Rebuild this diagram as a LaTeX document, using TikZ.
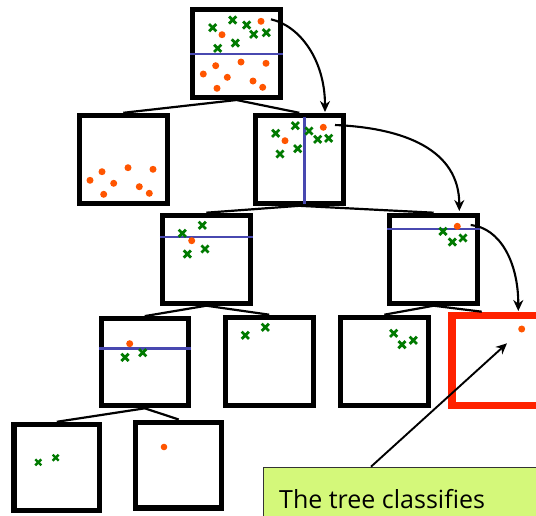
\documentclass[tikz,border=0pt]{standalone}
\usepackage{fontspec}
\setmainfont{Open Sans}
\usetikzlibrary{arrows.meta,calc}
\definecolor{boxred}{RGB}{255,34,0}
\definecolor{dotorange}{RGB}{255,85,0}
\definecolor{crossgreen}{RGB}{0,122,0}
\definecolor{splitblue}{RGB}{72,72,176}
\definecolor{notefill}{RGB}{212,248,122}
\begin{document}
\begin{tikzpicture}[x=1pt,y=-1pt,
  cell/.style={draw=black,line width=5.2pt,fill=white,inner sep=0pt,
    minimum width=#1,minimum height=#1},
  cell/.default=87.8pt,
  edge/.style={line width=2.2pt},
  split/.style={draw=splitblue,line width=2.4pt},
  flow/.style={line width=2.1pt,-{Stealth[length=11pt,width=10pt]}},
  xm/.pic={\draw[crossgreen,line width=2.8pt]
     (-3.6pt,-3.6pt)--(3.6pt,3.6pt) (-3.6pt,3.6pt)--(3.6pt,-3.6pt);},
  xs/.pic={\draw[crossgreen,line width=2.4pt]
     (-3pt,-3pt)--(3pt,3pt) (-3pt,3pt)--(3pt,-3pt);},
]
\useasboundingbox (0,0) rectangle (536,515);
\clip (0,0) rectangle (536,515);

% ---- tree cells ----
\node[cell] (T)   at (236.5,53.5) {};
\node[cell] (L)   at (123.3,159.3) {};
\node[cell] (R)   at (299.3,159.3) {};
\node[cell] (RL)  at (206.3,259.2) {};
\node[cell] (RR)  at (433.7,259.2) {};
\node[cell=87pt] (RLL) at (144.8,362.2) {};
\node[cell=87.8pt] (RLR) at (269.2,361.2) {};
\node[cell=87.8pt] (RRL) at (384.3,361.2) {};
\node[draw=boxred,line width=7.4pt,inner sep=0pt,minimum width=100pt,
      minimum height=90.2pt] (RRR) at (502,360.5) {};
\node[cell=85.8pt] (LL) at (56.8,467.3) {};
\node[cell=85.8pt] (LR) at (178.7,465) {};
\coordinate (RRRtop) at (481.7,311.7);

% ---- branches ----
\draw[edge] (L.north) -- (T.south) -- (R.north);
\draw[edge] (RL.north) -- (R.south) -- (RR.north);
\draw[edge] (RLL.north) -- (RL.south) -- (RLR.north);
\draw[edge] (RRL.north) -- (RR.south) -- (RRRtop);
\draw[edge] (LL.north) -- (RLL.south) -- (LR.north);

% ---- splitting lines ----
\draw[split] (T.west |- 0,54) -- (T.east |- 0,54);
\draw[split] (304.3,116.5) -- (304.3,204);
\draw[split] (RL.west |- 0,236.7) -- (RL.east |- 0,236.7);
\draw[split] (RR.west |- 0,229) -- (RR.east |- 0,229);
\draw[split] (RLL.west |- 0,348.3) -- (RLL.east |- 0,348.3);

% ---- samples: dots ----
\foreach \p in {(261,21.3),(222,34.7),(215.7,65.7),(241,62),(266,63.3),
  (203.3,74),(227.3,77.3),(253,81),(217,88.3),(262.7,87.3),
  (90,180.3),(102,171.7),(113.7,183.3),(128,167.7),(153,169.3),
  (103.7,194.3),(139.3,186.7),(149.3,193.3),
  (285,140.7),(323.3,127.3),
  (191.7,240.7),(457.3,226.3),(129.7,343.7),(521.7,329)}
  \fill[dotorange] \p circle (3.5pt);
\fill[dotorange] (164,447) circle (3.3pt);

% ---- samples: crosses ----
\foreach \p in {(212.7,27.7),(232.7,20),(246.7,25),(253.7,34.3),(266.3,32.7),
  (217.7,48.3),(235.3,43),
  (275.7,133.3),(295.3,125.7),(309,131),(317.7,139.3),(328.7,138.3),
  (280,154),(297.7,148.7),
  (182.3,233.3),(202.3,225.3),(187.3,254),(205,249),
  (443,231.3),(452.3,242),(463,238),
  (125,357.3),(142.7,352.7),(245.3,335.3),(265.3,327.3),
  (393.7,333.3),(402,344.7),(413.3,340.3)}
  \pic at \p {xm};
\foreach \p in {(38.3,462.3),(55.7,457.7)}
  \pic at \p {xs};

% ---- path of a sample down the tree ----
\coordinate (a1) at (271,19.3);
\coordinate (b1) at (325,112);
\coordinate (a2) at (335,125);
\coordinate (b2) at (459.3,211);
\coordinate (a3) at (470.7,225);
\coordinate (b3) at (518.3,311);
\draw[flow] (a1) .. controls (300,26) and (325,60) .. (b1);
\draw[flow] (a2) .. controls (405,128) and (459.3,150) .. (b2);
\draw[flow] (a3) .. controls (500,228) and (518.3,262) .. (b3);

% ---- note ----
\node[draw=black!80,line width=1pt,fill=notefill,anchor=north west,
      inner sep=0pt,minimum width=300pt,minimum height=80pt]
      (note) at (263.3,466.7) {};
\node[anchor=base west,inner sep=0pt,font=\fontsize{25}{30}\selectfont]
      (notetext) at (279,508) {The tree classifies};
\coordinate (notetip) at (507,343.3);
\draw[line width=1.9pt,-{Stealth[length=11pt,width=10pt]}]
      ($(note.north west)+(107.7,0)$) -- (notetip);
\end{tikzpicture}
\end{document}
